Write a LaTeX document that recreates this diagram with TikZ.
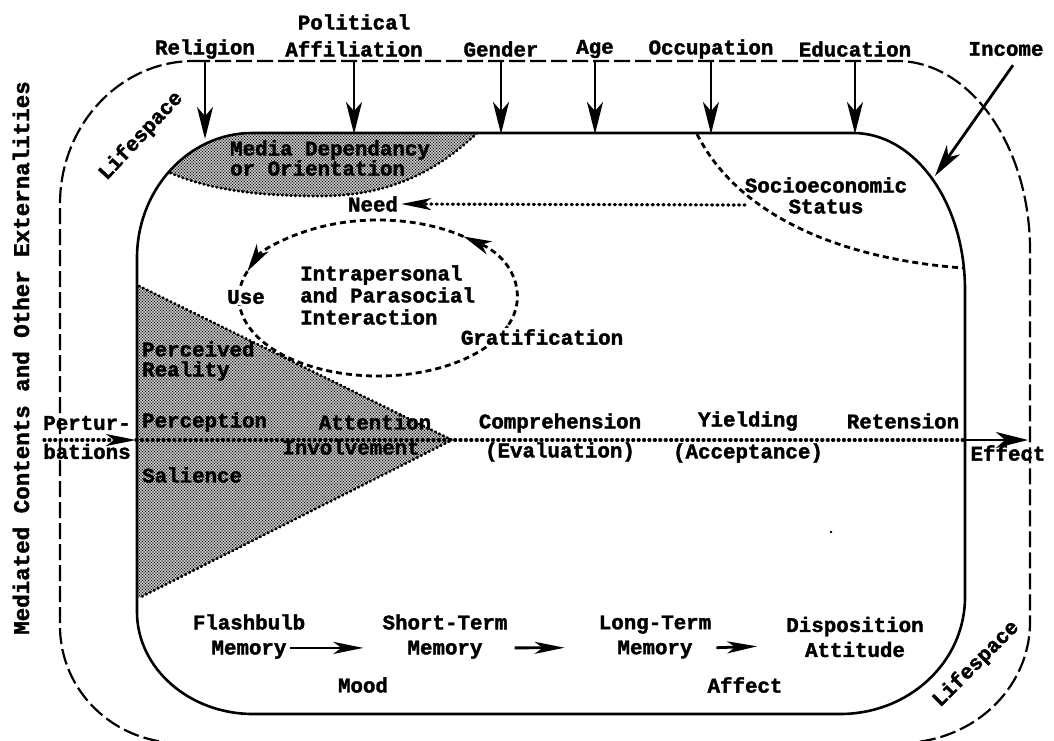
\documentclass[tikz,border=0pt]{standalone}
\usepackage{fontspec}
\setmainfont{Liberation Mono}[BoldFeatures={FakeBold=1.8}]
\usetikzlibrary{arrows.meta,patterns,calc}

% fine halftone stipple used for the shaded areas
\pgfdeclarepatternformonly{stipple}{\pgfqpoint{-1pt}{-1pt}}{\pgfqpoint{4pt}{4pt}}{\pgfqpoint{3pt}{3pt}}{%
  \pgfpathcircle{\pgfqpoint{0pt}{0pt}}{0.9pt}%
  \pgfpathcircle{\pgfqpoint{1.5pt}{1.5pt}}{0.9pt}%
  \pgfusepath{fill}}

\tikzset{
  lbl/.style={font=\fontsize{20.8}{25}\selectfont\bfseries, inner sep=0pt, align=center},
  lblL/.style={lbl, align=left, anchor=west},
  boxline/.style={line width=2.6pt},
  lifeline/.style={line width=2.2pt, dash pattern=on 16pt off 5pt},
  dotline/.style={line width=3.2pt, line cap=round, dash pattern=on 1pt off 4.4pt},
  dotedge/.style={line width=2.8pt, line cap=round, dash pattern=on 0.8pt off 3.6pt},
  dashcurve/.style={line width=2.8pt, dash pattern=on 6pt off 4pt},
  feed/.style={line width=2.8pt},
  bighead/.style={-{Stealth[length=32pt,width=16pt,inset=9pt]}},
  smallhead/.style={-{Stealth[length=30pt,width=12pt,inset=8pt]}},
  ellhead/.style={-{Stealth[length=28pt,width=14pt,inset=8pt]}},
}

\begin{document}
\begin{tikzpicture}[x=1pt,y=-1pt]
\useasboundingbox (0,0) rectangle (1054,741);

% ---------- shaded areas ----------
\begin{scope}
  \clip (252,133) -- (853,133) .. controls (915,133) and (965,203) .. (965,290)
        -- (965,597) .. controls (965,662) and (909,714) .. (840,714)
        -- (253,714) .. controls (189,714) and (137,668) .. (137,612)
        -- (137,258) .. controls (137,189) and (189,133) .. (252,133) -- cycle;
  % media dependancy region in the upper left corner
  \fill[pattern=stipple] (100,100) -- (477,100) -- (477,133)
        .. controls (430,178) and (380,196) .. (320,196)
        .. controls (250,196) and (205,188) .. (168,172) -- (100,172) -- cycle;
  % perception wedge
  \fill[pattern=stipple] (137,285) -- (452,440) -- (137,599) -- cycle;
\end{scope}
\draw[dotedge] (477,133) .. controls (430,178) and (380,196) .. (320,196)
        .. controls (250,196) and (205,188) .. (168,172);
\draw[dotedge] (139,286) -- (452,440) -- (139,598);

% ---------- lifespace (outer) and inner frame ----------
\draw[lifeline] (194,61) -- (897,61) .. controls (970,61) and (1030,146) .. (1030,250)
        -- (1030,622) .. controls (1030,689) and (972,743) .. (900,743)
        -- (180,743) .. controls (114,743) and (60,691) .. (60,626)
        -- (60,204) .. controls (60,125) and (120,61) .. (194,61) -- cycle;
\draw[boxline] (252,133) -- (853,133) .. controls (915,133) and (965,203) .. (965,290)
        -- (965,597) .. controls (965,662) and (909,714) .. (840,714)
        -- (253,714) .. controls (189,714) and (137,668) .. (137,612)
        -- (137,258) .. controls (137,189) and (189,133) .. (252,133) -- cycle;

% socioeconomic status boundary
\draw[dashcurve] (697,134) .. controls (735,210) and (830,258) .. (963,268);

% ---------- labels ----------
\node[lbl] (rel) at (205,49) {Religion};
\node[lbl] (pol) at (354,35.5) {Political\\[2pt]Affiliation};
\node[lbl] (gen) at (501,49) {Gender};
\node[lbl] (age) at (595,49) {Age};
\node[lbl] (occ) at (711,49) {Occupation};
\node[lbl] (edu) at (855,49) {Education};
\node[lbl] (inc) at (1006,49) {Income};

\node[lbl, font=\fontsize{22.5}{26}\selectfont\bfseries] (ext) at (21,358) [rotate=90] {Mediated Contents and Other Externalities};
\node[lbl] (life1) at (141,136) [rotate=47] {Lifespace};
\node[lbl] (life2) at (976,664) [rotate=45] {Lifespace};

\node[lblL] (media) at (230,158) {Media Dependancy\\[-5pt]or Orientation};
\node[lbl] (need) at (373,204) {Need};
\node[lbl] (ses) at (826,195.5) {Socioeconomic\\[-4pt]Status};

\node[lblL] (ipi) at (300,295) {Intrapersonal\\[-3pt]and Parasocial\\[-3pt]Interaction};

\node[lblL] (perc) at (142,361) {Perceived\\[-5pt]Reality};
\node[lblL] (percep) at (142,422) {Perception};
\node[lbl] (att) at (375,422) {Attention};
\node[lbl] (inv) at (351,447) {Involvement};
\node[lblL] (sal) at (142,475) {Salience};

\node[lbl] (pert) at (87,437.5) {Pertur-\\[4pt]bations};
\node[lbl] (comp) at (560,437.5) {Comprehension\\[4pt](Evaluation)};
\node[lbl] (yield) at (748,437) {Yielding\\[7pt](Acceptance)};
\node[lbl] (ret) at (903,421) {Retension};
\node[lbl] (eff) at (1008,453) {Effect};

\node[lbl] (flash) at (249,636.5) {Flashbulb\\Memory};
\node[lbl] (stm) at (445,636.5) {Short-Term\\Memory};
\node[lbl] (ltm) at (655,637) {Long-Term\\Memory};
\node[lbl] (disp) at (855,637) {Disposition\\Attitude};
\node[lbl] (mood) at (363,685) {Mood};
\node[lbl] (aff) at (745,685) {Affect};

% ---------- influences from the top ----------
\coordinate (topin) at (0,134);
\coordinate (relT) at (0,139);
\draw[feed,bighead] ([yshift=-3pt]rel.south) -- (rel.south |- relT);
\draw[feed,bighead] ([yshift=-3pt]pol.south) -- (pol.south |- topin);
\draw[feed,bighead] ([yshift=-3pt]gen.south) -- (gen.south |- topin);
\draw[feed,bighead] ([yshift=-3pt]age.south) -- (age.south |- topin);
\draw[feed,bighead] ([yshift=-3pt]occ.south) -- (occ.south |- topin);
\draw[feed,bighead] ([yshift=-3pt]edu.south) -- (edu.south |- topin);
\coordinate (incT) at (935,176);
\draw[feed,bighead] ([xshift=7pt,yshift=-9pt]inc.south) -- (incT);

% need from socioeconomic status
\coordinate (sesL) at (745,205);
\draw[dotline,smallhead] (sesL) -- ([xshift=3pt]need.east);

% use / gratification cycle
\coordinate (ec) at (378,298);
\draw[dashcurve] ([shift={(-160:139 and 78)}]ec) arc[start angle=-160, end angle=-340, x radius=139, y radius=78];
\draw[dashcurve,ellhead] ([shift={(20:139 and 78)}]ec) arc[start angle=20, end angle=-52, x radius=139, y radius=78];
\draw[dashcurve,ellhead] ([shift={(-52:139 and 78)}]ec) arc[start angle=-52, end angle=-160, x radius=139, y radius=78];
\node[lbl, fill=white, inner sep=1pt] (use) at (246,297) {Use};
\node[lbl, fill=white, inner sep=1pt] (grat) at (542,337) {Gratification};

% main processing line
\coordinate (pL) at (44,440);
\coordinate (pR) at (136,440);
\coordinate (eR) at (965,440);
\coordinate (eE) at (1028,440);
\draw[dotline,smallhead] (pL) -- (pR);
\draw[dotline] (pR) -- (eR);
\draw[feed,bighead] (eR) -- (eE);

% memory chain
\draw[feed,smallhead] ([xshift=-15pt,yshift=11pt]flash.south east) -- ([xshift=-19pt,yshift=11pt]stm.south west);
\draw[feed,smallhead] ([xshift=7pt,yshift=11pt]stm.south east) -- ([xshift=-34pt,yshift=11pt]ltm.south west);
\draw[feed,smallhead] ([xshift=5pt,yshift=11pt]ltm.south east) -- ([xshift=-29pt,yshift=11pt]disp.south west);

% stray speck
\fill (831,532) circle (1.4pt);
\end{tikzpicture}
\end{document}
